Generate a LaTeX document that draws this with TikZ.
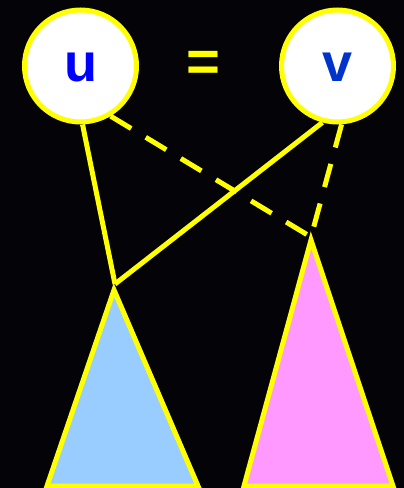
\documentclass[tikz,border=0pt]{standalone}
\usepackage{fontspec}
\setmainfont{Liberation Sans}
\definecolor{bg}{RGB}{3,3,8}
\definecolor{yel}{RGB}{255,255,0}
\definecolor{tblue}{RGB}{153,204,255}
\definecolor{tpink}{RGB}{255,153,255}
\definecolor{ublue}{RGB}{0,0,255}
\definecolor{vblue}{RGB}{0,51,204}
\pgfdeclarelayer{bglayer}
\pgfdeclarelayer{edgelayer}
\pgfsetlayers{bglayer,edgelayer,main}
\begin{document}
\begin{tikzpicture}[x=1pt,y=-1pt,
  vert/.style={circle,draw=yel,fill=white,line width=5pt,minimum size=112pt,inner sep=0pt,
    text height=30pt,text depth=-6pt,
    font=\fontsize{54}{54}\selectfont\bfseries},
  edge/.style={draw=yel,line width=5pt},
  dashedge/.style={edge,dash pattern=on 24pt off 17pt},
  tri/.style={draw=yel,line width=5pt,line join=miter}]
\begin{pgfonlayer}{bglayer}
\fill[bg] (0,0) rectangle (404,488);
\end{pgfonlayer}
\useasboundingbox (0,0) rectangle (404,488);
\coordinate (a) at (115,284);
\coordinate (b) at (311,237);
\node[vert,text=ublue] (u) at (80.5,66) {u};
\node[vert,text=vblue] (v) at (337.5,66) {v};
\node[text=yel,font=\fontsize{58}{58}\selectfont\bfseries] (eq) at (203,66) {=};
\begin{pgfonlayer}{edgelayer}
\draw[edge] (u.-88) -- (a);
\draw[edge] (v.-105) -- (a);
\draw[dashedge] (u.-59) -- (b);
\draw[dashedge] (v.-86) -- (b);
\end{pgfonlayer}
\draw[tri,fill=tblue] (114,290) -- (198,486) -- (47,486) -- cycle;
\draw[tri,fill=tpink] (311,240) -- (393,486) -- (244,486) -- cycle;
\end{tikzpicture}
\end{document}
